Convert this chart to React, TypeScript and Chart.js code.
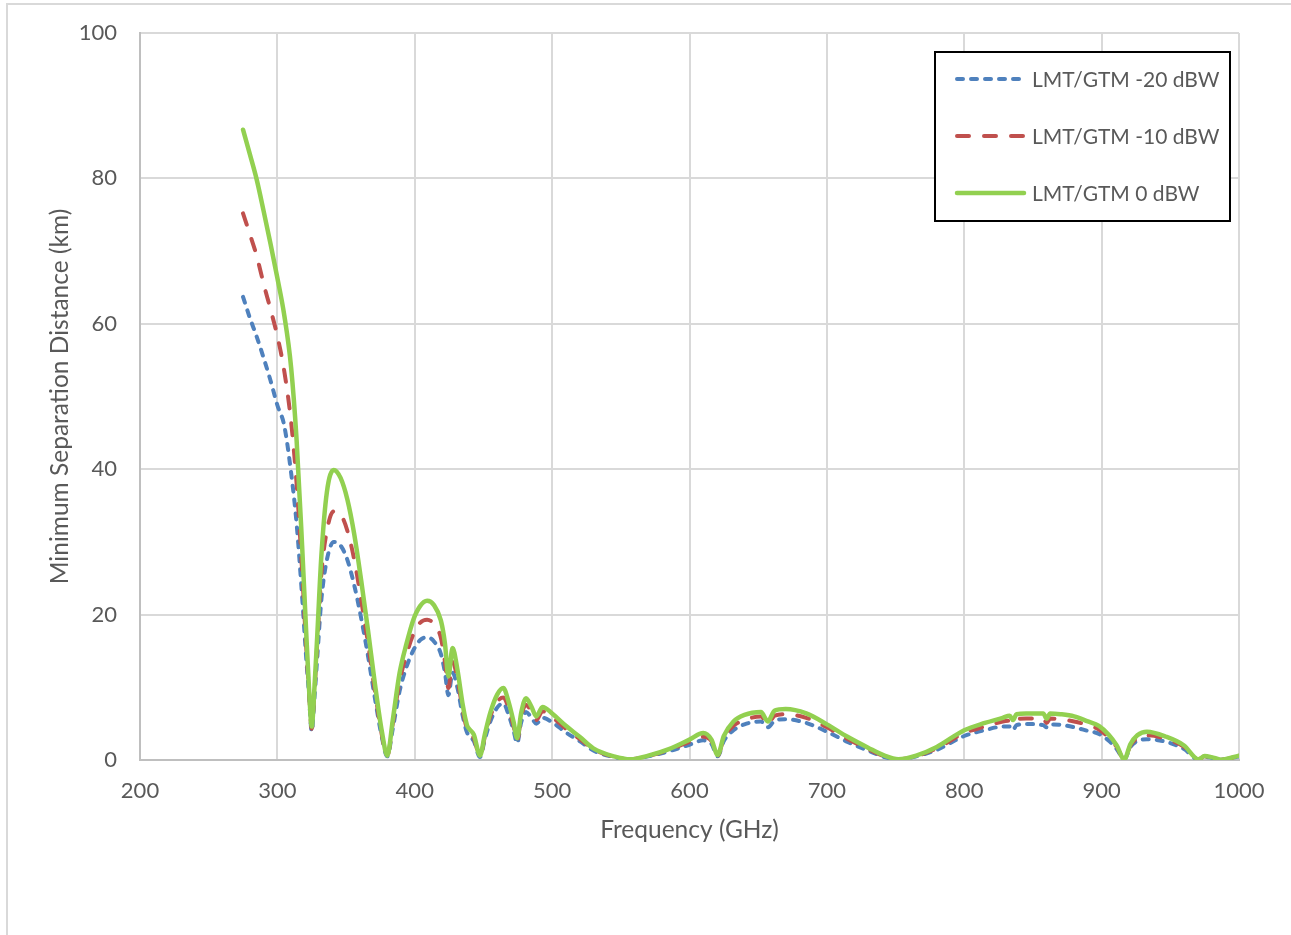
import React, { useEffect, useRef } from "react";
import { Chart, registerables } from "chart.js";

Chart.register(...registerables);

// Frequency grid (GHz)
const frequencies = [
  275, 280, 285, 290, 295, 300, 305, 310, 314, 318,
  321, 323, 325, 327, 329, 332, 336, 341, 346, 351,
  356, 361, 366, 371, 376, 380, 384, 389, 394, 399,
  404, 409, 414, 419, 422, 424.5, 427.5, 431, 435, 438,
  440, 443, 447.5, 451, 455, 460, 464.5, 468, 472, 474.5,
  477.5, 481, 485, 488.5, 493, 500, 510, 520, 530, 545,
  557, 570, 585, 600, 610, 616, 620.5, 625, 632, 640,
  652, 657, 662, 670, 685, 700, 715, 730, 742, 752,
  765, 780, 800, 815, 828, 833, 835.5, 838, 845, 857.5,
  860, 862.5, 870, 880, 890, 898, 905, 911, 916.5, 921,
  926, 933, 947, 960, 970.5, 975, 980, 987, 1000,
];

// Minimum separation distance (km), LMT/GTM -20 dBW
const lmtMinus20 = [
  63.7, 60.8, 58.2, 55.3, 52.2, 48.8, 46, 39.5, 32.5, 22.5,
  14, 9, 3.9, 8.5, 14, 22, 27.5, 30, 29.5, 27.5,
  24, 19.5, 14.3, 8.5, 3.2, 0.5, 4.3, 9.5, 12.8, 15.1,
  16.5, 16.9, 16.3, 14.6, 12, 8.9, 12, 10, 6, 3.8,
  3.3, 2.6, 0.4, 2.8, 5.3, 7.2, 7.8, 6.4, 4.0, 2.3,
  5.2, 6.6, 5.8, 5.0, 5.8, 5.2, 3.8, 2.6, 1.3, 0.4,
  0.1, 0.5, 1.2, 2.1, 2.7, 2.2, 0.5, 2.6, 4.1, 4.9,
  5.3, 4.5, 5.4, 5.6, 5.1, 3.9, 2.5, 1.3, 0.4, 0.1,
  0.5, 1.4, 3.3, 4.1, 4.6, 4.6, 4.1, 4.8, 4.95, 4.8,
  4.5, 4.9, 4.85, 4.5, 4.0, 3.6, 2.7, 1.5, 0.1, 1.8,
  2.6, 2.85, 2.5, 1.5, 0.1, 0.45, 0.3, 0.05, 0.5,
];

// LMT/GTM -10 dBW
const lmtMinus10 = [
  75.2, 72.3, 69.3, 65.5, 62, 58.3, 53.5, 46.5, 38, 26,
  15.5, 9.5, 4.3, 9.5, 16, 25.5, 31.5, 34.2, 33.8, 31.5,
  27.5, 22, 16, 9.5, 3.5, 0.6, 5, 10.8, 14.5, 17.3,
  18.9, 19.3, 18.7, 16.8, 13.5, 9.9, 13.5, 11.2, 6.8, 4.3,
  3.8, 3.0, 0.5, 3.2, 6.0, 8.0, 8.6, 7.3, 4.6, 2.6,
  6.0, 7.6, 6.6, 5.5, 6.7, 5.9, 4.3, 2.9, 1.5, 0.45,
  0.1, 0.55, 1.4, 2.5, 3.2, 2.6, 0.6, 3.0, 4.7, 5.5,
  6.0, 4.9, 6.1, 6.3, 5.8, 4.5, 2.9, 1.5, 0.5, 0.1,
  0.55, 1.6, 3.7, 4.6, 5.3, 5.4, 5.0, 5.6, 5.7, 5.7,
  5.1, 5.7, 5.6, 5.3, 4.8, 4.2, 3.1, 1.8, 0.1, 2.0,
  3.0, 3.4, 2.9, 1.8, 0.1, 0.5, 0.35, 0.05, 0.55,
];

// LMT/GTM 0 dBW
const lmt0 = [
  86.7, 83.3, 79.8, 75.5, 71.0, 66.3, 61.2, 54, 44, 29.5,
  17.5, 10, 4.6, 10, 17, 28, 36.8, 39.9, 38.8, 35.8,
  31, 24.7, 17.8, 10.5, 4, 0.6, 5.5, 12, 16, 19.3,
  21.2, 21.9, 21.3, 19.2, 16, 11.5, 15.4, 12.5, 7.5, 4.8,
  4.2, 3.5, 0.6, 3.5, 6.5, 9, 9.9, 8.2, 5.2, 3.0,
  6.5, 8.5, 7.3, 6.0, 7.3, 6.4, 4.7, 3.2, 1.6, 0.5,
  0.1, 0.6, 1.5, 2.8, 3.7, 2.8, 0.7, 3.3, 5.3, 6.2,
  6.6, 5.3, 6.8, 7.0, 6.4, 4.9, 3.2, 1.7, 0.6, 0.1,
  0.6, 1.8, 4.1, 5.1, 5.8, 6.1, 5.5, 6.3, 6.4, 6.4,
  5.7, 6.4, 6.3, 6.0, 5.3, 4.7, 3.5, 2.0, 0.1, 2.2,
  3.4, 3.9, 3.2, 2.0, 0.1, 0.55, 0.4, 0.05, 0.6,
];

const seriesLabels = ["LMT/GTM -20 dBW", "LMT/GTM -10 dBW", "LMT/GTM 0 dBW"];
const xTicks = [200, 300, 400, 500, 600, 700, 800, 900, 1000];
const yTicks = [0, 20, 40, 60, 80, 100];
const xTitle = "Frequency (GHz)";
const yTitle = "Minimum Separation Distance (km)";

const FONT = "Lato, 'Open Sans', sans-serif";
const TEXT = "#595959";
const TICK_FS = 22;
const TITLE_FS = 24.5;
const LEGEND_FS = 21;

const frame = {
  id: "frame",
  beforeDraw(chart: any) {
    const ctx = chart.ctx;
    ctx.save();
    ctx.fillStyle = "#ffffff";
    ctx.fillRect(0, 0, chart.width, chart.height);
    ctx.strokeStyle = "#d9d9d9";
    ctx.lineWidth = 2;
    ctx.strokeRect(7, 4, 1400, 1100);
    ctx.restore();
  },
};

const boxLegend = {
  id: "boxLegend",
  afterDraw(chart: any) {
    const ctx = chart.ctx;
    const x0 = 935, y0 = 52, w = 295, h = 169;
    ctx.save();
    ctx.fillStyle = "#ffffff";
    ctx.fillRect(x0, y0, w, h);
    ctx.lineWidth = 2;
    ctx.strokeStyle = "#000000";
    ctx.strokeRect(x0, y0, w, h);
    chart.data.datasets.forEach((ds: any, i: number) => {
      const y = 79 + i * 57;
      ctx.beginPath();
      ctx.setLineDash(ds.borderDash || []);
      ctx.lineCap = ds.borderCapStyle || "butt";
      ctx.lineWidth = ds.borderWidth;
      ctx.strokeStyle = ds.borderColor;
      ctx.moveTo(957, y);
      ctx.lineTo(1024, y);
      ctx.stroke();
      ctx.setLineDash([]);
      ctx.fillStyle = TEXT;
      ctx.font = `${LEGEND_FS}px ${FONT}`;
      ctx.textBaseline = "middle";
      ctx.textAlign = "left";
      ctx.fillText(ds.label, 1032, y + 1);
    });
    ctx.restore();
  },
};

export default function App() {
  const ref = useRef<HTMLCanvasElement>(null);
  useEffect(() => {
    document.body.style.margin = "0";
    const mk = (vals: number[]) => frequencies.map((f, i) => ({ x: f, y: vals[i] }));
    const chart = new Chart(ref.current as HTMLCanvasElement, {
      type: "line",
      data: {
        datasets: [
          {
            label: seriesLabels[0],
            data: mk(lmtMinus20),
            borderColor: "#4F81BD",
            borderWidth: 4,
            borderDash: [6, 8],
            borderCapStyle: "round",
            borderJoinStyle: "round",
            pointRadius: 0,
            cubicInterpolationMode: "monotone",
            order: 2,
          },
          {
            label: seriesLabels[1],
            data: mk(lmtMinus10),
            borderColor: "#C0504D",
            borderWidth: 4,
            borderDash: [12, 15],
            borderCapStyle: "round",
            borderJoinStyle: "round",
            pointRadius: 0,
            cubicInterpolationMode: "monotone",
            order: 1,
          },
          {
            label: seriesLabels[2],
            data: mk(lmt0),
            borderColor: "#92D050",
            borderWidth: 4.5,
            borderCapStyle: "round",
            borderJoinStyle: "round",
            pointRadius: 0,
            cubicInterpolationMode: "monotone",
            order: 0,
          },
        ],
      } as any,
      options: {
        animation: false,
        responsive: false,
        devicePixelRatio: 1,
        events: [],
        layout: { padding: { left: 0, top: 33, right: 52, bottom: 0 } },
        plugins: { legend: { display: false }, tooltip: { enabled: false } },
        scales: {
          x: {
            type: "linear",
            min: 200,
            max: 1000,
            afterBuildTicks: (s: any) => {
              s.ticks = xTicks.map((v) => ({ value: v }));
            },
            afterFit: (s: any) => {
              s.height = 935 - 760;
            },
            grid: {
              color: "#d9d9d9",
              lineWidth: 2,
              drawTicks: true,
              tickLength: 18,
              tickColor: "rgba(0,0,0,0)",
            },
            border: { color: "#bfbfbf", width: 2 },
            ticks: {
              color: TEXT,
              font: { family: FONT, size: TICK_FS },
              padding: 0,
              maxRotation: 0,
              autoSkip: false,
              callback: (v: any) => String(v),
            },
            title: {
              display: true,
              text: xTitle,
              color: TEXT,
              font: { family: FONT, size: TITLE_FS },
              padding: { top: 0, bottom: 90 },
            },
          },
          y: {
            type: "linear",
            min: 0,
            max: 100,
            afterBuildTicks: (s: any) => {
              s.ticks = yTicks.map((v) => ({ value: v }));
            },
            afterFit: (s: any) => {
              s.width = 140;
            },
            grid: {
              color: "#d9d9d9",
              lineWidth: 2,
              drawTicks: true,
              tickLength: 23,
              tickColor: "rgba(0,0,0,0)",
            },
            border: { color: "#bfbfbf", width: 2 },
            ticks: {
              color: TEXT,
              font: { family: FONT, size: TICK_FS },
              padding: 0,
              autoSkip: false,
              callback: (v: any) => String(v),
            },
            title: {
              display: true,
              text: yTitle,
              color: TEXT,
              font: { family: FONT, size: TITLE_FS },
              padding: { top: 45, bottom: 0 },
            },
          },
        },
      } as any,
      plugins: [frame, boxLegend],
    });
    return () => chart.destroy();
  }, []);
  return (
    <div style={{ position: "absolute", left: 0, top: 0, width: 1291, height: 935 }}>
      <canvas ref={ref} width={1291} height={935} style={{ display: "block", width: 1291, height: 935 }} />
    </div>
  );
}
